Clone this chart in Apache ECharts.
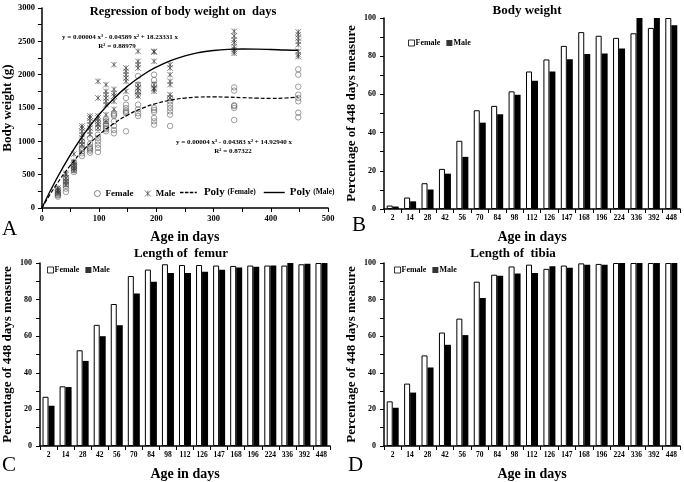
<!DOCTYPE html>
<html>
<head>
<meta charset="utf-8">
<script src="https://cdn.jsdelivr.net/npm/echarts@6/dist/echarts.min.js"></script>
<style>
  html, body { margin: 0; padding: 0; background: #fff; }
  #chart { width: 684px; height: 482px; }
</style>
</head>
<body>
<div id="chart"></div>
<script>
// ages used for the bar panels (B, C, D)
var ages = ['2', '14', '28', '42', '56', '70', '84', '98', '112', '126', '147', '168', '196', '224', '336', '392', '448'];

// B: body weight, % of 448 days measure
var bwFemale = [1.8, 6, 13.5, 21, 35.7, 51.7, 54, 61.6, 72, 78.3, 85.4, 92.6, 90.7, 89.6, 92, 94.8, 100];
var bwMale = [1.3, 4, 10.2, 18.5, 27.3, 45.2, 49.6, 59.8, 67.2, 72, 78.4, 81.2, 81.4, 84, 100, 100, 96.2];

// C: length of femur
var femurFemale = [26.9, 32.6, 52.3, 66.2, 77.6, 92.9, 96.4, 99.3, 98.9, 98.9, 98.6, 98.4, 98.6, 98.6, 98.6, 99.3, 100];
var femurMale = [22, 32.2, 46.5, 60, 66, 83.3, 89.8, 94.6, 94.6, 95.2, 96.3, 97.5, 98, 98.6, 100, 99.6, 100];

// D: length of tibia
var tibiaFemale = [24.4, 34.1, 49.5, 62, 69.6, 89.8, 93.6, 98.1, 99.1, 96.8, 98.6, 99.8, 99.5, 100, 100, 100, 100];
var tibiaMale = [20.9, 29.2, 42.9, 55.3, 60.6, 80.9, 93.1, 94.2, 94.5, 98.2, 97.4, 99, 99.1, 100, 100, 100, 100];

// A: individual body weights (g) per age
var scatterAges = [28, 42, 56, 70, 84, 98, 112, 126, 147, 168, 196, 224, 336, 448];
var femaleWeights = [
  [170, 190, 200, 215, 230, 250, 280],
  [240, 290, 330, 360, 390, 420, 450],
  [540, 570, 590, 610, 630, 650, 680],
  [780, 820, 850, 880, 900, 950, 1000],
  [830, 860, 880, 900, 920, 960, 1050],
  [840, 900, 950, 1000, 1050, 1100, 1200, 1280],
  [1150, 1180, 1200, 1230, 1260, 1300, 1330],
  [1120, 1170, 1230, 1300, 1380, 1400, 1420],
  [1150, 1420, 1440, 1460, 1500, 1550, 1650],
  [1380, 1420, 1480, 1550, 1700, 1750, 1850, 1980],
  [1250, 1300, 1350, 1440, 1470, 1500, 1850, 1920, 2000],
  [1230, 1400, 1450, 1500, 1550, 1600, 1650],
  [1320, 1500, 1530, 1540, 1760, 1810],
  [1360, 1430, 1600, 1650, 1700, 1820, 2000, 2080]
];
var maleWeights = [
  [220, 250, 270, 300],
  [350, 400, 450, 500, 520],
  [560, 600, 640, 680, 700, 810],
  [950, 1000, 1050, 1100, 1150, 1200, 1230],
  [1100, 1150, 1200, 1250, 1300, 1350, 1380],
  [1200, 1260, 1300, 1350, 1380, 1650, 1900],
  [1300, 1400, 1550, 1600, 1650, 1700, 1750, 1850],
  [1480, 1600, 1680, 1720, 1780, 2150],
  [1750, 1900, 1950, 2000, 2050, 2100],
  [1680, 1750, 1800, 1850, 2100, 2150, 2200, 2350],
  [1750, 1780, 1800, 1850, 2200, 2340, 2350],
  [1650, 1700, 1850, 1900, 2000, 2100, 2150],
  [2320, 2350, 2380, 2420, 2480, 2520, 2580, 2650],
  [2270, 2300, 2350, 2450, 2500, 2550, 2600, 2640]
];

// trend lines
var fitDays = [0, 25, 50, 75, 100, 125, 150, 175, 200, 225, 250, 275, 300, 325, 350, 375, 400, 425, 448];
var polyFemale = [0, 346, 642, 891, 1097, 1263, 1395, 1495, 1568, 1618, 1649, 1664, 1667, 1663, 1656, 1648, 1645, 1650, 1665];
var polyMale = [0, 428, 802, 1126, 1402, 1636, 1830, 1988, 2114, 2211, 2282, 2332, 2363, 2380, 2385, 2383, 2377, 2369, 2366];

var serif = '"Liberation Serif", "DejaVu Serif", serif';
var malePath = 'path://M0,0L10,10M10,0L0,10M5,0L5,10';
var dashIcon = 'path://M0,0H5V2H0Z M7,0H12V2H7Z M14,0H19V2H14Z M21,0H24V2H21Z';

function pairs(xs, lists) {
  var out = [];
  xs.forEach(function (x, i) {
    lists[i].forEach(function (v) { out.push([x, v]); });
  });
  return out;
}

function axisBase() {
  return {
    axisLine: { show: true, onZero: false, lineStyle: { color: '#000', width: 1.5 } },
    axisTick: { show: true, length: 4, lineStyle: { color: '#000', width: 1 } },
    axisLabel: { color: '#000', fontFamily: serif, fontWeight: 'bold', fontSize: 8 },
    splitLine: { show: false },
    nameTextStyle: { color: '#000', fontFamily: serif, fontWeight: 'bold', fontSize: 14 }
  };
}

function catAxis(gridIndex) {
  var a = axisBase();
  a.type = 'category';
  a.gridIndex = gridIndex;
  a.data = ages;
  a.boundaryGap = true;
  a.axisTick.alignWithLabel = false;
  a.axisTick.interval = 0;
  a.axisLabel.interval = 0;
  a.axisLabel.fontSize = 7.5;
  a.axisLabel.margin = 5;
  a.name = 'Age in days';
  a.nameLocation = 'middle';
  a.nameGap = 21;
  return a;
}

function pctAxis(gridIndex) {
  var a = axisBase();
  a.type = 'value';
  a.gridIndex = gridIndex;
  a.min = 0;
  a.max = 100;
  a.interval = 20;
  a.minorTick = { show: true, splitNumber: 2, length: 4, lineStyle: { color: '#000' } };
  a.axisLabel.margin = 8;
  a.name = 'Percentage of 448 days measure';
  a.nameLocation = 'middle';
  a.nameGap = 26;
  a.nameTextStyle.fontSize = 13;
  return a;
}

function barPair(gridIndex, f, m) {
  return [
    { type: 'bar', name: 'Female', xAxisIndex: gridIndex, yAxisIndex: gridIndex, data: f,
      barWidth: 6, barGap: '0%', itemStyle: { color: '#fff', borderColor: '#000', borderWidth: 1 } },
    { type: 'bar', name: 'Male', xAxisIndex: gridIndex, yAxisIndex: gridIndex, data: m,
      barWidth: 6, barGap: '0%', itemStyle: { color: '#000' } }
  ];
}

function barLegend(left, top) {
  return {
    left: left, top: top, itemWidth: 6, itemHeight: 6, itemGap: 6, padding: 0,
    textStyle: { fontFamily: serif, fontWeight: 'bold', fontSize: 8, color: '#000', padding: [0, 0, 0, -4] },
    data: [
      { name: 'Female', icon: 'rect', itemStyle: { color: '#fff', borderColor: '#000', borderWidth: 1 } },
      { name: 'Male', icon: 'rect', itemStyle: { color: '#000', borderWidth: 0 } }
    ]
  };
}

function txt(text, x, y, font, align) {
  return { type: 'text', x: x, y: y, silent: true,
    style: { text: text, fill: '#000', font: font, textAlign: align || 'center', textVerticalAlign: 'middle' } };
}

var chart = echarts.init(document.getElementById('chart'));

var xA = axisBase();
xA.type = 'value'; xA.gridIndex = 0; xA.min = 0; xA.max = 500; xA.interval = 50;
xA.axisLabel.formatter = function (v) { return v % 100 === 0 ? v : ''; };
xA.axisLabel.fontSize = 8.5;
xA.axisLabel.margin = 6;
xA.name = 'Age in days'; xA.nameLocation = 'middle'; xA.nameGap = 22;

var yA = axisBase();
yA.type = 'value'; yA.gridIndex = 0; yA.min = 0; yA.max = 3000; yA.interval = 250;
yA.axisLabel.formatter = function (v) { return v % 500 === 0 ? v : ''; };
yA.axisLabel.fontSize = 8.5;
yA.axisLabel.margin = 7;
yA.name = 'Body weight (g)'; yA.nameLocation = 'middle'; yA.nameGap = 27; yA.nameTextStyle.fontSize = 13;

chart.setOption({
  backgroundColor: '#fff',
  animation: false,
  grid: [
    { left: 39, top: 8, width: 289, height: 200 },
    { left: 384, top: 18, width: 296, height: 191 },
    { left: 39, top: 263, width: 291, height: 189 },
    { left: 384, top: 263, width: 296, height: 189 }
  ],
  xAxis: [xA, catAxis(1), catAxis(2), catAxis(3)],
  yAxis: [yA, pctAxis(1), pctAxis(2), pctAxis(3)],
  legend: [
    {
      left: 94, top: 189, itemWidth: 6, itemHeight: 6, itemGap: 11, padding: 0,
      textStyle: { fontFamily: serif, fontWeight: 'bold', fontSize: 9, color: '#000' },
      data: [
        { name: 'Female', icon: 'circle', itemStyle: { color: '#fff', borderColor: '#444', borderWidth: 0.8 } },
        { name: 'Male', icon: malePath, itemStyle: { color: 'rgba(0,0,0,0)', borderColor: '#333', borderWidth: 0.8 } }
      ]
    },
    {
      left: 180, top: 187, itemWidth: 21, itemHeight: 1.4, itemGap: 8, padding: 0,
      textStyle: { fontFamily: serif, fontWeight: 'bold', fontSize: 11, color: '#000',
        rich: { s: { fontFamily: serif, fontWeight: 'bold', fontSize: 7.5, color: '#000' } } },
      formatter: function (name) { return 'Poly {s|' + name.replace('Poly ', '') + '}'; },
      data: [
        { name: 'Poly (Female)', icon: dashIcon, itemStyle: { color: '#000', borderWidth: 0 } },
        { name: 'Poly (Male)', icon: 'rect', itemStyle: { color: '#000', borderWidth: 0 } }
      ]
    },
    barLegend(408, 39),
    barLegend(47, 266),
    barLegend(394, 266)
  ],
  series: [
    { type: 'scatter', name: 'Female', xAxisIndex: 0, yAxisIndex: 0, data: pairs(scatterAges, femaleWeights),
      symbol: 'circle', symbolSize: 5.5, itemStyle: { color: 'rgba(0,0,0,0)', borderColor: '#555', borderWidth: 0.7 } },
    { type: 'scatter', name: 'Male', xAxisIndex: 0, yAxisIndex: 0, data: pairs(scatterAges, maleWeights),
      symbol: malePath, symbolSize: 5.5, itemStyle: { color: 'rgba(0,0,0,0)', borderColor: '#333', borderWidth: 0.8 } },
    { type: 'line', name: 'Poly (Female)', xAxisIndex: 0, yAxisIndex: 0, smooth: true, symbol: 'none',
      data: fitDays.map(function (d, i) { return [d, polyFemale[i]]; }),
      lineStyle: { color: '#000', width: 1.2, type: [4, 2] }, itemStyle: { color: '#000' } },
    { type: 'line', name: 'Poly (Male)', xAxisIndex: 0, yAxisIndex: 0, smooth: true, symbol: 'none',
      data: fitDays.map(function (d, i) { return [d, polyMale[i]]; }),
      lineStyle: { color: '#000', width: 1.4 }, itemStyle: { color: '#000' } }
  ].concat(barPair(1, bwFemale, bwMale), barPair(2, femurFemale, femurMale), barPair(3, tibiaFemale, tibiaMale)),
  graphic: [
    txt('Regression of body weight on  days', 183, 12, 'bold 12.5px ' + serif),
    txt('y = 0.00004 x\u00b3 - 0.04589 x\u00b2 + 18.23331 x', 120, 37, 'bold 7px ' + serif),
    txt('R\u00b2 = 0.88979', 117, 46, 'bold 7px ' + serif),
    txt('y = 0.00004 x\u00b3 - 0.04383 x\u00b2 + 14.92940 x', 234, 142, 'bold 7px ' + serif),
    txt('R\u00b2 = 0.87322', 233, 151, 'bold 7px ' + serif),
    txt('Body weight', 527, 11, 'bold 13px ' + serif),
    txt('Length of  femur', 181, 254, 'bold 13px ' + serif),
    txt('Length of  tibia', 513, 254, 'bold 13px ' + serif),
    txt('A', 2, 229, '21px ' + serif, 'left'),
    txt('B', 352, 225, '21px ' + serif, 'left'),
    txt('C', 2, 465, '21px ' + serif, 'left'),
    txt('D', 348, 465, '21px ' + serif, 'left')
  ]
});
</script>
</body>
</html>
